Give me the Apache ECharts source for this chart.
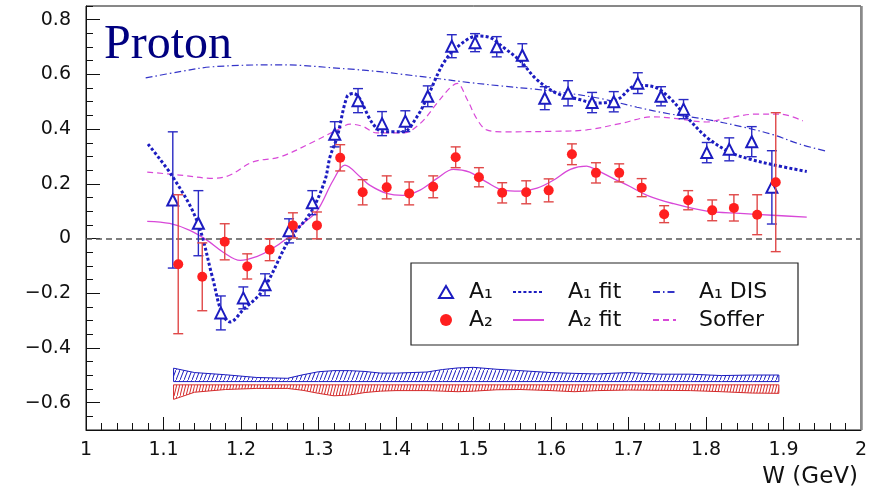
<!DOCTYPE html>
<html><head><meta charset="utf-8">
<script src="https://cdn.jsdelivr.net/npm/echarts@6.0.0/dist/echarts.min.js"></script>
<style>html,body{margin:0;padding:0;background:#fff}#c{width:881px;height:492px}</style>
</head><body><div id="c"></div>
<script>
// ---------- data ----------
const a1W   = [1.112,1.145,1.174,1.203,1.231,1.262,1.292,1.321,1.351,1.382,1.412,1.441,1.472,1.502,1.530,1.563,1.592,1.622,1.653,1.681,1.712,1.742,1.771,1.801,1.830,1.859,1.885];
const a1Val = [0.141,0.056,-0.272,-0.217,-0.169,0.028,0.131,0.381,0.504,0.420,0.429,0.520,0.703,0.716,0.701,0.670,0.513,0.531,0.497,0.500,0.568,0.520,0.473,0.314,0.326,0.354,0.187];
const a1Err = [0.249,0.119,0.062,0.040,0.040,0.044,0.044,0.046,0.044,0.044,0.038,0.038,0.042,0.033,0.037,0.042,0.042,0.046,0.037,0.037,0.038,0.035,0.035,0.037,0.042,0.055,0.134];

const a2W   = [1.119,1.150,1.179,1.208,1.237,1.267,1.298,1.328,1.357,1.388,1.417,1.448,1.477,1.507,1.537,1.568,1.597,1.627,1.658,1.688,1.717,1.746,1.777,1.808,1.836,1.866,1.890];
const a2Val = [-0.094,-0.140,-0.012,-0.102,-0.041,0.048,0.048,0.295,0.169,0.187,0.165,0.189,0.297,0.224,0.167,0.169,0.176,0.308,0.240,0.240,0.186,0.089,0.140,0.103,0.112,0.087,0.206];
const a2Err = [0.254,0.124,0.066,0.046,0.040,0.046,0.049,0.048,0.046,0.042,0.042,0.040,0.038,0.035,0.037,0.042,0.042,0.038,0.037,0.033,0.033,0.031,0.035,0.038,0.048,0.073,0.254];

const a1FitW = [1.080,1.112,1.143,1.163,1.175,1.186,1.203,1.228,1.263,1.289,1.308,1.315,1.324,1.337,1.345,1.370,1.383,1.409,1.427,1.441,1.461,1.479,1.505,1.521,1.538,1.560,1.582,1.608,1.634,1.659,1.685,1.711,1.732,1.751,1.775,1.801,1.831,1.857,1.886,1.930];
const a1FitV = [0.345,0.225,0.066,-0.140,-0.270,-0.305,-0.260,-0.190,0.000,0.090,0.210,0.300,0.370,0.520,0.530,0.420,0.390,0.390,0.445,0.520,0.640,0.700,0.740,0.735,0.700,0.650,0.580,0.530,0.510,0.495,0.507,0.560,0.555,0.520,0.445,0.370,0.315,0.290,0.270,0.245];

const disW = [1.077,1.121,1.164,1.250,1.337,1.379,1.409,1.453,1.495,1.538,1.582,1.625,1.667,1.711,1.754,1.801,1.844,1.886,1.921,1.954];
const disV = [0.587,0.610,0.628,0.635,0.620,0.610,0.600,0.585,0.570,0.557,0.545,0.530,0.510,0.480,0.455,0.435,0.410,0.380,0.345,0.320];

const sofW = [1.079,1.121,1.164,1.186,1.215,1.250,1.293,1.324,1.341,1.357,1.375,1.409,1.431,1.453,1.470,1.479,1.492,1.505,1.517,1.538,1.603,1.646,1.689,1.732,1.757,1.801,1.827,1.866,1.895,1.925];
const sofV = [0.243,0.232,0.220,0.232,0.280,0.298,0.353,0.397,0.418,0.410,0.386,0.386,0.420,0.495,0.552,0.567,0.507,0.434,0.397,0.390,0.392,0.397,0.420,0.445,0.440,0.426,0.440,0.455,0.455,0.430];

const a2FitW = [1.079,1.108,1.134,1.156,1.177,1.199,1.221,1.237,1.259,1.280,1.298,1.319,1.334,1.354,1.366,1.388,1.409,1.431,1.453,1.474,1.495,1.517,1.538,1.560,1.582,1.603,1.625,1.646,1.659,1.680,1.702,1.724,1.757,1.801,1.844,1.886,1.930];
const a2FitV = [0.063,0.055,0.030,-0.006,-0.050,-0.080,-0.065,-0.043,0.000,0.055,0.100,0.213,0.268,0.225,0.195,0.165,0.158,0.177,0.220,0.253,0.243,0.206,0.177,0.173,0.184,0.213,0.253,0.265,0.250,0.220,0.190,0.158,0.128,0.100,0.092,0.085,0.078];

const sysW      = [1.113,1.14,1.18,1.22,1.26,1.28,1.30,1.32,1.34,1.36,1.38,1.40,1.44,1.46,1.48,1.50,1.53,1.56,1.60,1.63,1.66,1.70,1.74,1.78,1.82,1.86,1.894];
const sysA1Base = -0.523;
const sysA1Top  = [-0.474,-0.490,-0.498,-0.508,-0.511,-0.498,-0.487,-0.483,-0.483,-0.486,-0.492,-0.492,-0.488,-0.479,-0.473,-0.471,-0.478,-0.483,-0.490,-0.493,-0.495,-0.490,-0.496,-0.496,-0.501,-0.499,-0.499];
const sysA2Base = -0.535;
const sysA2Bot  = [-0.588,-0.562,-0.552,-0.548,-0.548,-0.555,-0.566,-0.575,-0.572,-0.563,-0.558,-0.556,-0.556,-0.558,-0.560,-0.558,-0.553,-0.552,-0.556,-0.560,-0.556,-0.554,-0.555,-0.556,-0.560,-0.565,-0.566];

const yMajorTicks = [-0.6,-0.4,-0.2,0,0.2,0.4,0.6,0.8];

// ---------- styles ----------
const BLUE = '#1c1cc0', RED = '#ff1f1f', REDERR = '#e04848', MAG = '#d848d8', DIS = '#3434c8', BANDRED = '#d42a2a';
const FONT = 'DejaVu Sans';

function hatch(color, w, h){
  const c = document.createElement('canvas'); c.width = w; c.height = h;
  const g = c.getContext('2d'); g.strokeStyle = color; g.lineWidth = 1;
  g.beginPath(); g.moveTo(-w*0.25, h*1.25); g.lineTo(w*1.25, -h*0.25); g.stroke();
  return c;
}

function errBar(color){
  return function(params, api){
    const x = api.value(0), y = api.value(1), e = api.value(2);
    const p1 = api.coord([x, y - e]), p2 = api.coord([x, y + e]);
    const w = 5;
    const st = {stroke: color, lineWidth: 1.4};
    return {type:'group', children:[
      {type:'line', shape:{x1:p1[0],y1:p1[1],x2:p2[0],y2:p2[1]}, style:st},
      {type:'line', shape:{x1:p1[0]-w,y1:p1[1],x2:p1[0]+w,y2:p1[1]}, style:st},
      {type:'line', shape:{x1:p2[0]-w,y1:p2[1],x2:p2[0]+w,y2:p2[1]}, style:st}
    ]};
  };
}

function band(color, pattern, count){
  return function(params, api){
    const x0 = api.value(0), t0 = api.value(1), x1 = api.value(2), t1 = api.value(3), b = api.value(4);
    const p0 = api.coord([x0, b]), q0 = api.coord([x0, t0]), q1 = api.coord([x1, t1]), p1 = api.coord([x1, b]);
    const st = {stroke: color, lineWidth: 1};
    const ch = [
      {type:'polygon', shape:{points:[p0, q0, q1, p1]}, style:{fill:{image:pattern, repeat:'repeat'}, stroke:null}},
      {type:'line', shape:{x1:q0[0],y1:q0[1],x2:q1[0],y2:q1[1]}, style:st},
      {type:'line', shape:{x1:p0[0],y1:p0[1],x2:p1[0],y2:p1[1]}, style:st}
    ];
    if (params.dataIndex === 0) ch.push({type:'line', shape:{x1:p0[0],y1:p0[1],x2:q0[0],y2:q0[1]}, style:st});
    if (params.dataIndex === count - 1) ch.push({type:'line', shape:{x1:p1[0],y1:p1[1],x2:q1[0],y2:q1[1]}, style:st});
    return {type:'group', children:ch};
  };
}

const zip = (xs, ys) => xs.map((x,i)=>[x, ys[i]]);
const segs = (ws, vs, base) => ws.slice(0, -1).map((w,i)=>[w, vs[i], ws[i+1], vs[i+1], base]);

const chart = echarts.init(document.getElementById('c'), null, {renderer:'canvas'});
const legendText = {fontSize:22, fontFamily:FONT, color:'#111', lineHeight:22};
const noSym = {color:'rgba(0,0,0,0)', borderWidth:0, opacity:0};
chart.setOption({
  animation:false,
  backgroundColor:'#fff',
  grid:{left:86, right:20, top:6, bottom:62, show:true, borderColor:'#111', borderWidth:1, containLabel:false},
  xAxis:[
    {type:'value', min:1, max:2, interval:0.1, position:'bottom',
     axisLine:{show:true, onZero:false, lineStyle:{color:'#111', width:1}},
     axisTick:{show:true, inside:true, length:13, lineStyle:{color:'#111'}},
     axisLabel:{margin:11, fontFamily:FONT, fontSize:19, color:'#111',
       formatter:v=>String(Math.round(v*10)/10)},
     splitLine:{show:false}},
    {type:'value', min:1, max:2, interval:0.02, position:'bottom',
     axisLine:{show:false, onZero:false}, axisTick:{show:true, inside:true, length:7, lineStyle:{color:'#111'}},
     axisLabel:{show:false}, splitLine:{show:false}}
  ],
  yAxis:[
    {type:'value', min:-0.7, max:0.85, position:'left',
     axisLine:{show:true, onZero:false, lineStyle:{color:'#111', width:1}},
     axisTick:{show:true, inside:true, length:14, customValues:yMajorTicks, lineStyle:{color:'#111'}},
     axisLabel:{margin:15, fontFamily:FONT, fontSize:19, color:'#111', customValues:yMajorTicks, padding:[5,0,0,0],
       formatter:v=> v===0 ? '0' : (v<0?'\u2212':'') + Math.abs(v).toFixed(1)},
     splitLine:{show:false}},
    {type:'value', min:-0.7, max:0.85, interval:0.05, position:'left',
     axisLine:{show:false, onZero:false}, axisTick:{show:true, inside:true, length:7, lineStyle:{color:'#111'}},
     axisLabel:{show:false}, splitLine:{show:false}}
  ],
  legend:[
    {orient:'vertical', left:438, top:281, padding:0, itemWidth:14, itemHeight:12, itemGap:6, selectedMode:false,
     textStyle:Object.assign({padding:[0,0,0,11]}, legendText),
     data:[{name:'A\u2081', icon:'triangle', itemStyle:{color:'#fff', borderColor:BLUE, borderWidth:2, opacity:1}},
           {name:'A\u2082', icon:'circle', itemStyle:{color:RED, opacity:1}}]},
    {orient:'vertical', left:512, top:281, padding:0, itemWidth:31, itemHeight:12, itemGap:6, selectedMode:false,
     textStyle:Object.assign({padding:[0,0,0,19]}, legendText),
     data:[{name:'A\u2081 fit', itemStyle:noSym},{name:'A\u2082 fit', itemStyle:noSym}]},
    {orient:'vertical', left:652, top:281, padding:0, itemWidth:23, itemHeight:12, itemGap:6, selectedMode:false,
     textStyle:Object.assign({padding:[0,0,0,18]}, legendText),
     data:[{name:'A\u2081 DIS', itemStyle:noSym},{name:'Soffer', itemStyle:noSym}]}
  ],
  graphic:[
    {type:'text', x:104, y:45.5, z:100, style:{text:'Proton', font:'48px "Liberation Serif"', fill:'#000080', align:'left', verticalAlign:'middle'}},
    {type:'text', x:858, y:477, z:100, style:{text:'W (GeV)', font:'23px "DejaVu Sans"', fill:'#111', align:'right', textAlign:'right', verticalAlign:'middle'}},
    {type:'rect', z:100, shape:{x:411, y:263, width:387, height:82}, style:{fill:'none', stroke:'#222', lineWidth:1.2}},
    {type:'line', z:100, shape:{x1:861.5, y1:6, x2:861.5, y2:430}, style:{stroke:'#8a8a8a', lineWidth:2.5}}
  ],
  series:[
    // systematic bands
    {type:'custom', name:'sysA1', renderItem:band(BLUE, hatch(BLUE, 4, 10), sysW.length-1),
     data:segs(sysW, sysA1Top, sysA1Base), z:2, silent:true},
    {type:'custom', name:'sysA2', renderItem:band(BANDRED, hatch(BANDRED, 3, 12), sysW.length-1),
     data:segs(sysW, sysA2Bot, sysA2Base), z:2, silent:true},
    // curves
    {type:'line', name:'Soffer', data:zip(sofW, sofV), smooth:0.35, symbol:'none', showSymbol:false, color:MAG,
     lineStyle:{color:MAG, width:1.2, type:[6,4]}, z:3,
     markLine:{silent:true, symbol:['none','none'], label:{show:false},
       lineStyle:{color:'#555', width:1.5, type:[6,4]}, data:[{yAxis:0}]}},
    {type:'line', name:'A\u2081 DIS', data:zip(disW, disV), smooth:0.35, symbol:'none', showSymbol:false, color:DIS,
     lineStyle:{color:DIS, width:1.2, type:[7,3,1.5,3]}, z:3},
    {type:'line', name:'A\u2082 fit', data:zip(a2FitW, a2FitV), smooth:0.35, symbol:'none', showSymbol:false, color:MAG,
     lineStyle:{color:MAG, width:1.3}, z:3},
    {type:'line', name:'A\u2081 fit', data:zip(a1FitW, a1FitV), smooth:0.35, symbol:'none', showSymbol:false, color:BLUE,
     lineStyle:{color:BLUE, width:3, type:[3,2.2]}, z:4},
    // A1 points
    {type:'custom', name:'A1err', renderItem:errBar('#2a2ac4'), data:a1W.map((w,i)=>[w, a1Val[i], a1Err[i]]), z:5, silent:true},
    {type:'scatter', name:'A\u2081', data:zip(a1W, a1Val), symbol:'emptyTriangle', symbolSize:11, color:BLUE,
     itemStyle:{color:BLUE, borderColor:BLUE, borderWidth:2, opacity:1}, z:6},
    // A2 points
    {type:'custom', name:'A2err', renderItem:errBar(REDERR), data:a2W.map((w,i)=>[w, a2Val[i], a2Err[i]]), z:7, silent:true},
    {type:'scatter', name:'A\u2082', data:zip(a2W, a2Val), symbol:'circle', symbolSize:10, color:RED,
     itemStyle:{color:RED, opacity:1}, z:8}
  ]
});
</script></body></html>
